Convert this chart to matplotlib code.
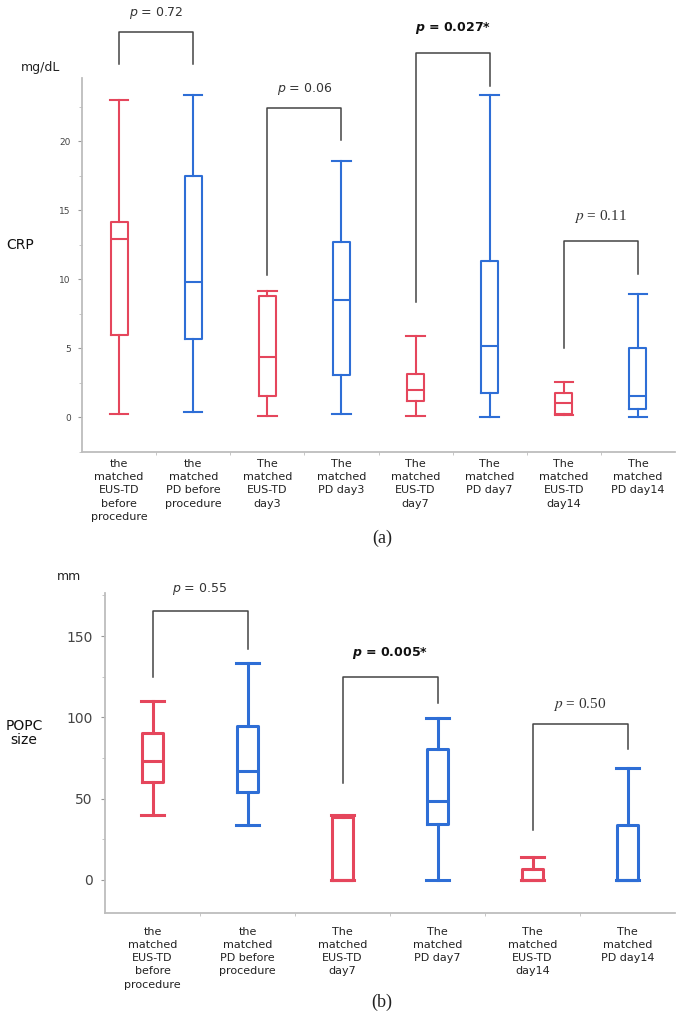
import numpy as np
import matplotlib.pyplot as plt
from matplotlib.ticker import MultipleLocator

plt.rcParams['font.family'] = ['DejaVu Sans']
plt.rcParams['mathtext.fontset'] = 'dejavusans'

# colours by group
RED = '#E5465C'
BLUE = '#2E6ED6'

# (a) CRP, mg/dL
crp_labels = ['the\nmatched\nEUS-TD\nbefore\nprocedure', 'the\nmatched\nPD before\nprocedure',
              'The\nmatched\nEUS-TD\nday3', 'The\nmatched\nPD day3',
              'The\nmatched\nEUS-TD\nday7', 'The\nmatched\nPD day7',
              'The\nmatched\nEUS-TD\nday14', 'The\nmatched\nPD day14']
crp_group = ['EUS-TD', 'PD', 'EUS-TD', 'PD', 'EUS-TD', 'PD', 'EUS-TD', 'PD']
crp_whislo = [0.27, 0.39, 0.14, 0.27, 0.14, 0.07, 0.15, 0.02]
crp_q1 = [6.0, 5.7, 1.57, 3.1, 1.23, 1.74, 0.27, 0.65]
crp_med = [12.9, 9.83, 4.4, 8.5, 2.0, 5.17, 1.04, 1.57]
crp_q3 = [14.2, 17.5, 8.8, 12.75, 3.17, 11.35, 1.79, 5.02]
crp_whishi = [23.0, 23.4, 9.18, 18.6, 5.87, 23.4, 2.59, 8.94]
crp_pairs = [(1, 2), (3, 4), (5, 6), (7, 8)]
crp_pvals = ['0.72', '0.06', '0.027*', '0.11']
crp_signif = [False, False, True, False]

# (b) POPC size, mm
popc_labels = ['the\nmatched\nEUS-TD\nbefore\nprocedure', 'the\nmatched\nPD before\nprocedure',
               'The\nmatched\nEUS-TD\nday7', 'The\nmatched\nPD day7',
               'The\nmatched\nEUS-TD\nday14', 'The\nmatched\nPD day14']
popc_group = ['EUS-TD', 'PD', 'EUS-TD', 'PD', 'EUS-TD', 'PD']
popc_whislo = [40, 34, 0, 0, 0, 0]
popc_q1 = [60.1, 53.9, 0, 34.2, 0, 0]
popc_med = [73.2, 67.2, 0, 48.6, 0, 0]
popc_q3 = [90.6, 94.5, 38.7, 80.6, 6.6, 33.8]
popc_whishi = [110, 133.3, 40, 99.6, 14.4, 69]
popc_pairs = [(1, 2), (3, 4), (5, 6)]
popc_pvals = ['0.55', '0.005*', '0.50']
popc_signif = [False, True, False]

W, H = 681, 1017
fig = plt.figure(figsize=(W / 100, H / 100), dpi=100)


def px_axes(l, t, r, b):
    return fig.add_axes([l / W, 1 - b / H, (r - l) / W, (b - t) / H])


def draw_boxes(ax, lo, q1, med, q3, hi, groups, lw):
    stats = [dict(whislo=a, q1=b, med=c, q3=d, whishi=e, fliers=[])
             for a, b, c, d, e in zip(lo, q1, med, q3, hi)]
    pos = np.arange(1, len(stats) + 1)
    art = ax.bxp(stats, positions=pos, widths=0.23, capwidths=0.25,
                 showfliers=False, manage_ticks=False)
    for i, g in enumerate(groups):
        c = RED if g == 'EUS-TD' else BLUE
        art['boxes'][i].set(color=c, linewidth=lw)
        art['medians'][i].set(color=c, linewidth=lw)
        for k in (2 * i, 2 * i + 1):
            art['whiskers'][k].set(color=c, linewidth=lw)
            art['caps'][k].set(color=c, linewidth=lw)


def style_axes(ax, labels, ymaj, ymin, ylim, ysize, xpad, ypad):
    n = len(labels)
    ax.set_xlim(0.5, n + 0.5)
    ax.set_ylim(*ylim)
    for s in ('top', 'right'):
        ax.spines[s].set_visible(False)
    for s in ('left', 'bottom'):
        ax.spines[s].set_color('#bdbdbd')
        ax.spines[s].set_linewidth(1.3)
    ax.set_xticks(np.arange(1, n + 1), labels, fontsize=8, color='#222222')
    for t in ax.get_xticklabels():
        t.set_linespacing(1.4)
    ax.set_xticks(np.arange(1.5, n), minor=True)
    ax.tick_params(axis='x', which='major', length=0, pad=xpad)
    ax.tick_params(axis='x', which='minor', length=2.5, color='#bdbdbd')
    ax.yaxis.set_major_locator(MultipleLocator(ymaj))
    ax.yaxis.set_minor_locator(MultipleLocator(ymin))
    ax.tick_params(axis='y', which='major', length=3, color='#999999',
                   labelsize=ysize, labelcolor='#444444', pad=ypad)
    ax.tick_params(axis='y', which='minor', length=2.5, color='#bdbdbd')


def bracket(ax, i, j, top, left_end, right_end, text_y, pval, bold, serif):
    ax.plot([i, i, j, j], [left_end, top, top, right_end], color='#444444',
            lw=1.1, clip_on=False)
    if bold:
        txt = r'$\mathbfit{p}$ = ' + pval
        ax.text((i + j) / 2, text_y, txt, ha='center', va='center', fontsize=9,
                fontweight='bold', color='#111111', clip_on=False)
    elif serif:
        ax.text((i + j) / 2, text_y, '$p$ = ' + pval, ha='center', va='center',
                fontsize=11, family='Liberation Serif', math_fontfamily='stix',
                color='#333333', clip_on=False)
    else:
        ax.text((i + j) / 2, text_y, '$p$ = ' + pval, ha='center', va='center',
                fontsize=9, color='#333333', clip_on=False)


# ---- panel (a)
ax1 = px_axes(82, 78, 675, 452)
draw_boxes(ax1, crp_whislo, crp_q1, crp_med, crp_q3, crp_whishi, crp_group, 1.5)
style_axes(ax1, crp_labels, 5, 2.5, (-2.5, 24.6), 6.5, 5, 5)
crp_brk = [(27.9, 25.6, 25.6, 29.3), (22.4, 10.3, 20.1, 23.8),
           (26.4, 8.4, 24.0, 28.2), (12.8, 5.0, 10.4, 14.6)]
for (i, j), p, b, geo, sf in zip(crp_pairs, crp_pvals, crp_signif, crp_brk,
                                 [False, False, False, True]):
    bracket(ax1, i, j, geo[0], geo[1], geo[2], geo[3], p, b, sf)

# ---- panel (b)
ax2 = px_axes(105, 593, 675, 913)
draw_boxes(ax2, popc_whislo, popc_q1, popc_med, popc_q3, popc_whishi, popc_group, 2.2)
style_axes(ax2, popc_labels, 50, 25, (-20.3, 176.5), 10, 10, 6)
popc_brk = [(165.4, 124.8, 142.1, 179.0), (124.8, 59.7, 108.9, 139.6),
            (95.9, 30.8, 80.6, 108.2)]
for (i, j), p, b, geo, sf in zip(popc_pairs, popc_pvals, popc_signif, popc_brk,
                                 [False, False, True]):
    bracket(ax2, i, j, geo[0], geo[1], geo[2], geo[3], p, b, sf)

# axis titles
fig.text(41 / W, 1 - 67 / H, 'mg/dL', ha='center', va='center', fontsize=9, color='#222222')
fig.text(20 / W, 1 - 245 / H, 'CRP', ha='center', va='center', fontsize=10, color='#111111')
fig.text(69 / W, 1 - 577 / H, 'mm', ha='center', va='center', fontsize=9, color='#222222')
fig.text(24 / W, 1 - 733 / H, 'POPC\nsize', ha='center', va='center', fontsize=10,
         color='#111111', linespacing=1.0)

fig.text(382 / W, 1 - 538 / H, '(a)', ha='center', va='center', fontsize=13,
         family='Liberation Serif', color='#222222')
fig.text(382 / W, 1 - 1002 / H, '(b)', ha='center', va='center', fontsize=13,
         family='Liberation Serif', color='#222222')

fig.savefig('out.png', dpi=100)
